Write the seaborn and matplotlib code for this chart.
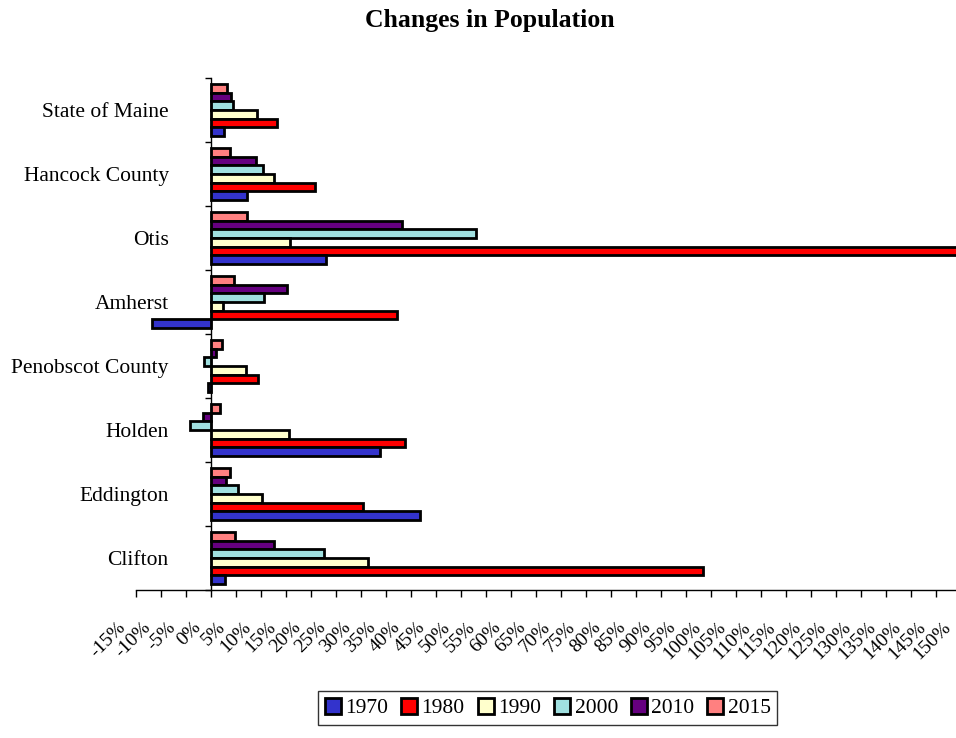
import matplotlib
matplotlib.use("Agg")
import matplotlib.pyplot as plt
import matplotlib.transforms as mtransforms
from matplotlib.patches import Patch
import seaborn as sns
import pandas as pd
import numpy as np

categories = ["State of Maine", "Hancock County", "Otis", "Amherst",
              "Penobscot County", "Holden", "Eddington", "Clifton"]
years = ["1970", "1980", "1990", "2000", "2010", "2015"]
v1970 = [2.5, 7.1, 23.0, -11.9, -0.7, 33.8, 41.8, 2.7]
v1980 = [13.2, 20.8, 152.0, 37.1, 9.3, 38.8, 30.3, 98.4]
v1990 = [9.2, 12.5, 15.7, 2.3, 7.0, 15.5, 10.1, 31.3]
v2000 = [4.3, 10.3, 52.9, 10.6, -1.5, -4.2, 5.3, 22.5]
v2010 = [4.0, 8.9, 38.1, 15.1, 0.9, -1.7, 3.0, 12.5]
v2015 = [3.1, 3.8, 7.1, 4.5, 2.2, 1.8, 3.7, 4.7]
colors = {"1970": "#3333CC", "1980": "#FF0000", "1990": "#FFFFCC",
          "2000": "#A0E0E0", "2010": "#660080", "2015": "#FF8080"}
xticks = list(range(-15, 151, 5))

series = {"1970": v1970, "1980": v1980, "1990": v1990,
          "2000": v2000, "2010": v2010, "2015": v2015}
rows = []
for y in years:
    for c, v in zip(categories, series[y]):
        rows.append({"Area": c, "Year": y, "Change": v})
df = pd.DataFrame(rows)

sns.set_style("white")
plt.rcParams["font.family"] = ["Liberation Serif", "DejaVu Serif"]
plt.rcParams["text.color"] = "black"
plt.rcParams["xtick.color"] = "black"
plt.rcParams["ytick.color"] = "black"

fig = plt.figure(figsize=(9.56, 7.38), dpi=100)
ax = fig.add_axes([136/956, 1-590/738, 825/956, 512/738])

hue_order = years[::-1]
sns.barplot(data=df, y="Area", x="Change", hue="Year", order=categories,
            hue_order=hue_order, palette=colors, orient="h", errorbar=None,
            edgecolor="black", linewidth=2.0, width=0.8, saturation=1,
            ax=ax, legend=False)

ax.set_xlim(-15, 150)
ax.set_ylim(7.5, -0.5)
ax.set_xlabel("")
ax.set_ylabel("")

for s in ["top", "right"]:
    ax.spines[s].set_visible(False)
ax.spines["left"].set_position(("data", 0))
ax.spines["left"].set_color("black")
ax.spines["bottom"].set_color("black")
ax.spines["left"].set_linewidth(1.0)
ax.spines["bottom"].set_linewidth(1.0)

ax.set_xticks(xticks)
ax.set_xticklabels([f"{t}%" for t in xticks], rotation=45, ha="right",
                   va="center", rotation_mode="anchor", fontsize=14,
                   color="black")
ax.tick_params(axis="x", direction="out", length=5, width=1, color="black",
               pad=20, bottom=True)
offset = mtransforms.ScaledTranslation(-0.13, 0, fig.dpi_scale_trans)
for lab in ax.get_xticklabels():
    lab.set_transform(lab.get_transform() + offset)

ax.set_yticks(range(len(categories)))
ax.set_yticklabels(categories, fontsize=15.5, color="black")
ax.tick_params(axis="y", which="major", length=0, pad=30.5, left=True)
ax.set_yticks(np.arange(-0.5, len(categories), 1.0), minor=True)
ax.tick_params(axis="y", which="minor", direction="out", length=4.5,
               width=1, color="black", left=True)

fig.text(0.5126, 0.972, "Changes in Population", ha="center", va="center",
         fontsize=18.5, fontweight="bold", color="black")

handles = [Patch(facecolor=colors[y], edgecolor="black", linewidth=2.0,
                 label=y) for y in years]
leg = fig.legend(handles=handles, loc="center", bbox_to_anchor=(0.573, 0.0407),
                 ncol=6, frameon=True, fancybox=False, fontsize=15.5,
                 handlelength=0.75, handleheight=0.75, handletextpad=0.2,
                 columnspacing=0.6, borderpad=0.3)
leg.get_frame().set_edgecolor("black")
leg.get_frame().set_linewidth(1.0)
for t in leg.get_texts():
    t.set_color("black")

fig.savefig("out.png", dpi=100)
